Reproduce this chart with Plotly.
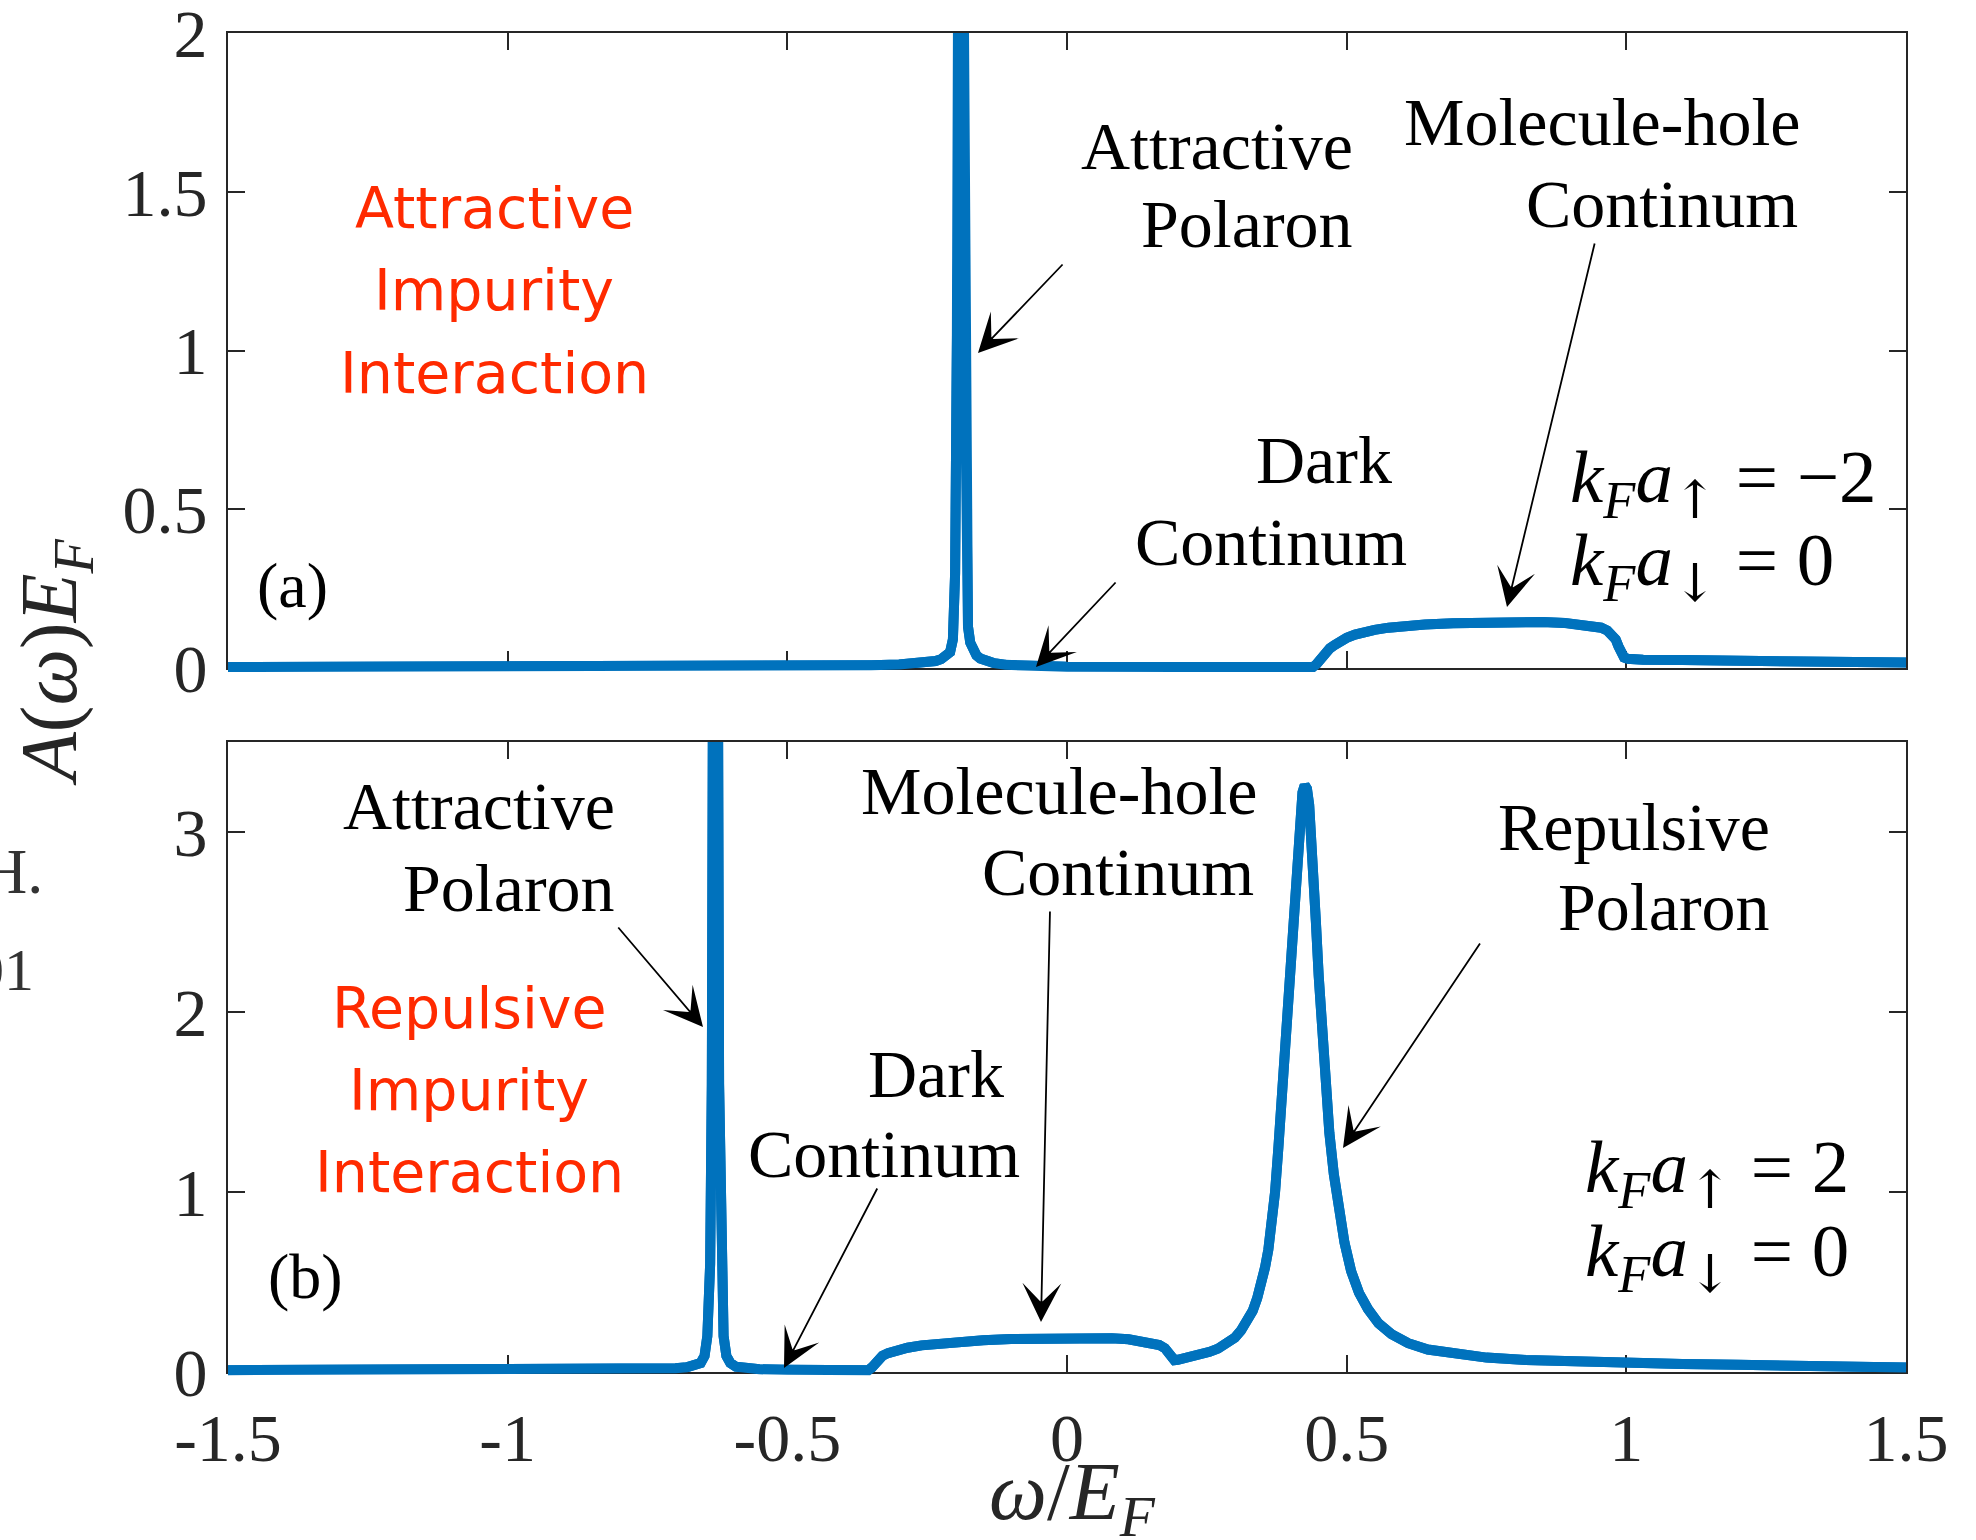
import plotly.graph_objects as go

# ---------------- data ----------------
omega_a = [-1.5, -1.2, -0.9, -0.6, -0.45, -0.35, -0.3, -0.27, -0.25, -0.235, -0.225, -0.216,
           -0.209, -0.204, -0.2, -0.197, -0.194, -0.186, -0.183, -0.18, -0.177, -0.173, -0.168,
           -0.162, -0.155, -0.145, -0.13, -0.11, -0.08, -0.04, 0.0, 0.2, 0.44, 0.446, 0.452,
           0.458, 0.464, 0.47, 0.478, 0.488, 0.5, 0.515, 0.53, 0.55, 0.575, 0.6, 0.64, 0.69,
           0.75, 0.8, 0.85, 0.89, 0.92, 0.94, 0.955, 0.966, 0.975, 0.981, 0.986, 0.991, 0.996,
           1.002, 1.012, 1.03, 1.1, 1.2, 1.3, 1.4, 1.5]
spec_a = [0.003, 0.003, 0.004, 0.005, 0.007, 0.009, 0.011, 0.014, 0.018, 0.022, 0.028, 0.036,
          0.05, 0.09, 0.3, 1.0, 2.5, 2.5, 1.0, 0.3, 0.13, 0.08, 0.055,
          0.04, 0.03, 0.022, 0.015, 0.01, 0.007, 0.005, 0.004, 0.003, 0.003, 0.012, 0.028,
          0.042, 0.053, 0.062, 0.072, 0.085, 0.095, 0.105, 0.113, 0.12, 0.127, 0.132, 0.137, 0.141,
          0.145, 0.146, 0.145, 0.142, 0.138, 0.133, 0.127, 0.118, 0.106, 0.09, 0.068, 0.045, 0.033,
          0.029, 0.027, 0.026, 0.025, 0.023, 0.021, 0.019, 0.017]

omega_b = [-1.5, -1.2, -0.9, -0.8, -0.74, -0.7, -0.68, -0.665, -0.655, -0.648, -0.643, -0.638,
           -0.635, -0.633, -0.624, -0.622, -0.619, -0.614, -0.609, -0.602, -0.592, -0.575, -0.55,
           -0.5, -0.4, -0.355, -0.349, -0.343, -0.337, -0.33, -0.32, -0.305, -0.285, -0.26, -0.23,
           -0.2, -0.15, -0.1, -0.05, 0.0, 0.05, 0.08, 0.11, 0.13, 0.15, 0.165, 0.175, 0.182, 0.188,
           0.192, 0.198, 0.21, 0.225, 0.24, 0.255, 0.27, 0.285, 0.3, 0.311, 0.322, 0.332, 0.34,
           0.347, 0.354, 0.36, 0.366, 0.372, 0.378, 0.384, 0.39, 0.396, 0.402, 0.408, 0.413, 0.417,
           0.421, 0.425, 0.429, 0.433, 0.437, 0.441, 0.445, 0.45, 0.456, 0.462, 0.469, 0.477, 0.486,
           0.496, 0.508, 0.522, 0.538, 0.557, 0.58, 0.61, 0.645, 0.69, 0.75, 0.82, 0.9, 1.0, 1.1,
           1.2, 1.3, 1.4, 1.5]
spec_b = [0.01, 0.01, 0.012, 0.014, 0.017, 0.021, 0.026, 0.035, 0.05, 0.09, 0.2, 0.6,
          1.6, 3.8, 3.8, 1.6, 0.6, 0.2, 0.09, 0.05, 0.03, 0.02, 0.015,
          0.012, 0.01, 0.01, 0.025, 0.05, 0.072, 0.09, 0.105, 0.12, 0.135, 0.148, 0.158,
          0.166, 0.176, 0.183, 0.188, 0.19, 0.19, 0.188, 0.182, 0.175, 0.164, 0.15, 0.132, 0.108, 0.08,
          0.066, 0.068, 0.076, 0.085, 0.097, 0.112, 0.13, 0.155, 0.19, 0.23, 0.28, 0.34, 0.41,
          0.48, 0.58, 0.68, 0.82, 1.0, 1.25, 1.52, 1.85, 2.2, 2.5, 2.7, 2.95, 3.12,
          3.22, 3.26, 3.24, 3.15, 2.98, 2.75, 2.5, 2.2, 1.88, 1.6, 1.33, 1.1, 0.9,
          0.72, 0.56, 0.44, 0.35, 0.27, 0.21, 0.16, 0.125, 0.1, 0.08, 0.067, 0.058, 0.05, 0.045,
          0.04, 0.035, 0.03, 0.025]

x_ticks = [-1.5, -1, -0.5, 0, 0.5, 1, 1.5]
x_tick_text = ["-1.5", "-1", "-0.5", "0", "0.5", "1", "1.5"]
ya_ticks = [0, 0.5, 1, 1.5, 2]
ya_tick_text = ["0", "0.5", "1", "1.5", "2"]
yb_ticks = [0, 1, 2, 3]
yb_tick_text = ["0", "1", "2", "3"]
ya_range = [0, 2]
yb_range = [0, 3.5]
x_range = [-1.5, 1.5]

# ---------------- layout geometry (pixels) ----------------
W, H = 1976, 1540
L, R = 228, 1906
T, BA = 33, 1380                     # top of plotting area / bottom of paper area
TOP_PANEL = (33, 668)                # pixel top / bottom (y=0) of panel (a)
BOT_PANEL = (742, 1372)              # pixel top / bottom (y=0) of panel (b)
SPILL = 6                            # the thick line runs a few px under the y=0 axis


def px_x(x):
    return (x - L) / (R - L)


def px_y(y):
    return (BA - y) / (BA - T)


AX = "#262626"
BLUE = "#0072BD"
RED = "#FF2A00"
SERIF = "Liberation Serif, Times New Roman, serif"
COMIC = "DejaVu Sans, sans-serif"

scale_a = (TOP_PANEL[1] - TOP_PANEL[0]) / (ya_range[1] - ya_range[0])
scale_b = (BOT_PANEL[1] - BOT_PANEL[0]) / (yb_range[1] - yb_range[0])

fig = go.Figure()
line_style = dict(color=BLUE, width=10)
# main panels
fig.add_trace(go.Scatter(x=omega_a, y=spec_a, mode="lines", line=line_style,
                         xaxis="x", yaxis="y", showlegend=False, hoverinfo="skip"))
fig.add_trace(go.Scatter(x=omega_b, y=spec_b, mode="lines", line=line_style,
                         xaxis="x2", yaxis="y2", showlegend=False, hoverinfo="skip"))
# same curves on hidden helper axes (same scale, a few px taller at the bottom) so the thick
# line is not cut at the y=0 axis line, as in the original figure
fig.add_trace(go.Scatter(x=omega_a, y=spec_a, mode="lines", line=line_style,
                         xaxis="x3", yaxis="y3", showlegend=False, hoverinfo="skip"))
fig.add_trace(go.Scatter(x=omega_b, y=spec_b, mode="lines", line=line_style,
                         xaxis="x4", yaxis="y4", showlegend=False, hoverinfo="skip"))

axis_common = dict(showline=True, linecolor=AX, linewidth=2, mirror="ticks", ticks="inside",
                   ticklen=17, tickwidth=2, tickcolor=AX, showgrid=False, zeroline=False,
                   ticklabeloverflow="allow",
                   tickfont=dict(family=SERIF, size=68, color=AX))
hidden = dict(visible=False, showgrid=False, zeroline=False)

fig.update_layout(
    width=W, height=H,
    margin=dict(l=L, r=W - R, t=T, b=H - BA, autoexpand=False),
    paper_bgcolor="white", plot_bgcolor="rgba(0,0,0,0)",
    xaxis=dict(domain=[0, 1], anchor="y", range=x_range, tickmode="array",
               tickvals=x_ticks, ticktext=x_tick_text, showticklabels=False, **axis_common),
    yaxis=dict(domain=[px_y(TOP_PANEL[1]), px_y(TOP_PANEL[0])], anchor="x", range=ya_range,
               tickmode="array", tickvals=ya_ticks, ticktext=ya_tick_text,
               ticklabelstandoff=5, **axis_common),
    xaxis2=dict(domain=[0, 1], anchor="y2", range=x_range, tickmode="array",
                tickvals=x_ticks, ticktext=x_tick_text, ticklabelstandoff=5, **axis_common),
    yaxis2=dict(domain=[px_y(BOT_PANEL[1]), px_y(BOT_PANEL[0])], anchor="x2", range=yb_range,
                tickmode="array", tickvals=yb_ticks, ticktext=yb_tick_text,
                ticklabelstandoff=5, **axis_common),
    xaxis3=dict(domain=[0, 1], anchor="y3", range=x_range, **hidden),
    yaxis3=dict(domain=[px_y(TOP_PANEL[1] + SPILL), px_y(TOP_PANEL[0])], anchor="x3",
                range=[ya_range[0] - SPILL / scale_a, ya_range[1]], **hidden),
    xaxis4=dict(domain=[0, 1], anchor="y4", range=x_range, **hidden),
    yaxis4=dict(domain=[px_y(BOT_PANEL[1] + SPILL), px_y(BOT_PANEL[0])], anchor="x4",
                range=[yb_range[0] - SPILL / scale_b, yb_range[1]], **hidden),
)

annotations = []


def text(s, x, y, anchor="right", size=68, color="black", family=SERIF, angle=0):
    annotations.append(dict(text=s, x=px_x(x), y=px_y(y), xref="paper", yref="paper",
                            xanchor=anchor, yanchor="middle", showarrow=False,
                            textangle=angle,
                            font=dict(family=family, size=size, color=color)))


def arrow(tip, tail):
    annotations.append(dict(text="", x=px_x(tip[0]), y=px_y(tip[1]), xref="paper", yref="paper",
                            ax=tail[0] - tip[0], ay=tail[1] - tip[1], axref="pixel", ayref="pixel",
                            showarrow=True, arrowhead=3, arrowsize=3.6, arrowwidth=1.8,
                            arrowcolor="black", standoff=0, startstandoff=0))


UP = '<sub><span style="font-family:DejaVu Serif">↑</span></sub>'
DN = '<sub><span style="font-family:DejaVu Serif">↓</span></sub>'
KFA = "<i>k</i><sub><i>F</i></sub><i>a</i>"
EQ = "&nbsp;=&nbsp;"

# ----- top panel (a) -----
text("Attractive", 1355, 146)
text("Polaron", 1355, 224)
arrow((978, 353), (1064, 263))
text("Molecule-hole", 1803, 122)
text("Continum", 1800, 204)
arrow((1507, 607), (1595, 242))
text("Dark", 1394, 460)
text("Continum", 1409, 542)
arrow((1036, 667), (1117, 581))
text(KFA + UP + EQ + "−2", 1568, 482, anchor="left", size=75)
text(KFA + DN + EQ + "0", 1568, 565, anchor="left", size=75)
text("(a)", 255, 585, anchor="left", size=64)
text("Attractive", 494, 208, anchor="center", size=57, color=RED, family=COMIC)
text("Impurity", 494, 290, anchor="center", size=57, color=RED, family=COMIC)
text("Interaction", 494, 373, anchor="center", size=57, color=RED, family=COMIC)

# ----- bottom panel (b) -----
text("Attractive", 617, 806)
text("Polaron", 617, 888)
arrow((703, 1027), (617, 926))
text("Molecule-hole", 1260, 791)
text("Continum", 1256, 872)
arrow((1041, 1322), (1050, 910))
text("Repulsive", 1772, 827)
text("Polaron", 1772, 907)
arrow((1343, 1148), (1481, 942))
text("Dark", 1006, 1074)
text("Continum", 1022, 1154)
arrow((784, 1368), (878, 1187))
text(KFA + UP + EQ + "2", 1583, 1172, anchor="left", size=75)
text(KFA + DN + EQ + "0", 1583, 1256, anchor="left", size=75)
text("(b)", 266, 1276, anchor="left", size=64)
text("Repulsive", 469, 1008, anchor="center", size=57, color=RED, family=COMIC)
text("Impurity", 469, 1090, anchor="center", size=57, color=RED, family=COMIC)
text("Interaction", 469, 1172, anchor="center", size=57, color=RED, family=COMIC)

# ----- axis titles -----
text("<i>ω</i>/<i>E</i><sub><i>F</i></sub>", 1072, 1497, anchor="center", size=82, color=AX)
text("<i>A</i>(<i>ω</i>)<i>E</i><sub><i>F</i></sub>", 55, 662, anchor="center", size=80, color=AX, angle=-90)

# ----- cut-off text from the neighbouring page -----
text("H.", 45, 871, anchor="right", size=64, color="#333333")
text("01", 36, 970, anchor="right", size=60, color="#333333")

fig.update_layout(annotations=annotations)

fig.write_html("out.html", post_script="document.body.style.margin='0';")
